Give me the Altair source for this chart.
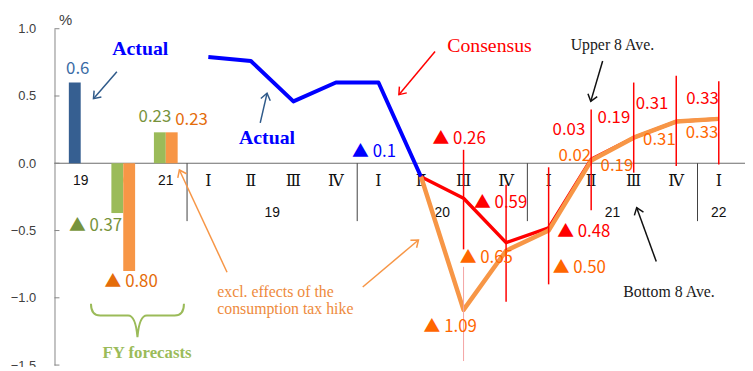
import math
import altair as alt
import pandas as pd

# ---------------- data ----------------
fy_years = ["19", "20", "21"]
fy_actual = [0.6]                  # FY19 actual
fy_forecast = [-0.37, 0.23]        # FY20, FY21 forecasts
fy_forecast_excl = [-0.80, 0.23]   # FY20, FY21 forecasts excl. tax-hike effects

quarters = ["Ⅰ", "Ⅱ", "Ⅲ", "Ⅳ", "Ⅰ", "Ⅱ", "Ⅲ", "Ⅳ", "Ⅰ", "Ⅱ", "Ⅲ", "Ⅳ", "Ⅰ"]
quarter_years = ["19", "19", "19", "19", "20", "20", "20", "20", "21", "21", "21", "21", "22"]

actual_q = [0.79, 0.76, 0.46, 0.60, 0.60, -0.10]                     # 19Ⅰ..20Ⅱ
consensus_q = [-0.10, -0.26, -0.59, -0.48, 0.03, 0.19, 0.31, 0.33]   # 20Ⅱ..22Ⅰ
excl_q = [-0.10, -1.09, -0.65, -0.50, 0.02, 0.19, 0.31, 0.33]        # 20Ⅱ..22Ⅰ
upper8 = [0.10, -0.16, -0.03, 0.40, 0.60, 0.65, 0.61]                # 20Ⅲ..22Ⅰ
bottom8 = [-0.64, -1.03, -0.90, -0.35, -0.07, -0.02, -0.01]          # 20Ⅲ..22Ⅰ
excl_upper8 = [-0.77]                                                 # 20Ⅲ
excl_bottom8 = [-1.47]

y_ticks = [-1.5, -1.0, -0.5, 0.0, 0.5, 1.0]

# ---------------- layout / style ----------------
W, H = 698, 340
N_SLOTS = len(fy_years) + len(quarters)
SLOT_PX = W / N_SLOTS
UNIT_PX = H / 2.5
SANS = "Liberation Sans, DejaVu Sans, sans-serif"
LBL = "Noto Sans CJK JP, Liberation Sans, sans-serif"
SERIF = "Liberation Serif, DejaVu Serif, serif"

C_BLUE_BAR = "#365F91"
C_GREEN = "#9BBB59"
C_GREEN_TXT = "#77933C"
C_ORANGE = "#F79646"
C_ORANGE_TXT = "#E46C0A"
C_RED = "#FF0000"
C_ORANGE_LBL = "#FF6600"
C_BLUE = "#0000FF"

fy_slot = list(range(len(fy_years)))
q_slot = [len(fy_years) + k for k in range(len(quarters))]
ACT_START, CONS_START, RANGE_START = 0, 5, 6


def fmt(v, d):
    s = f"{abs(v):.{d}f}"
    return ("▲ " + s) if v < 0 else s


YAXIS = alt.Axis(values=y_ticks, format=".1f", grid=False, ticks=False, tickSize=0,
                 labelPadding=19, labelFont=SANS, labelFontSize=13, labelColor="#404040",
                 domainColor="#868686", title="%", titleAngle=0, titleX=4, titleY=-9,
                 titleAlign="left", titleBaseline="middle", titleFont=SANS,
                 titleFontSize=15, titleFontWeight="normal", titleColor="#404040")


def X(f="x"):
    return alt.X(f"{f}:Q", scale=alt.Scale(domain=[-0.5, N_SLOTS - 0.5], nice=False, zero=False), axis=None)


def Y(f="y"):
    return alt.Y(f"{f}:Q", scale=alt.Scale(domain=[-1.5, 1.0], nice=False, zero=False), axis=YAXIS)


layers = []

# zero line
layers.append(alt.Chart(pd.DataFrame({"y": [0.0]})).mark_rule(color="#6a6a6a", strokeWidth=1).encode(y=Y()))

# group separators below the axis
sep_x = [q_slot[0] - 0.5] + [q_slot[k] - 0.5 for k in range(1, len(quarters)) if quarter_years[k] != quarter_years[k - 1]]
SEP_DEPTH = -0.43
layers.append(alt.Chart(pd.DataFrame({"x": sep_x, "y": [0.0] * len(sep_x), "y2": [SEP_DEPTH] * len(sep_x)}))
              .mark_rule(color="#404040", strokeWidth=1).encode(x=X(), y=Y(), y2=alt.Y2("y2:Q")))

# category labels
layers.append(alt.Chart(pd.DataFrame({"x": fy_slot, "y": [0.0] * 3, "t": fy_years}))
              .mark_text(dy=18, font=SANS, fontSize=14, color="#111111", baseline="middle")
              .encode(x=X(), y=Y(), text="t:N"))
layers.append(alt.Chart(pd.DataFrame({"x": q_slot, "y": [0.0] * len(q_slot), "t": quarters}))
              .mark_text(dy=18, font=SERIF, fontSize=16, color="#111111", baseline="middle")
              .encode(x=X(), y=Y(), text="t:N"))
years_u = list(dict.fromkeys(quarter_years))
year_centers = [sum(s for s, yy in zip(q_slot, quarter_years) if yy == y) /
                quarter_years.count(y) for y in years_u]
layers.append(alt.Chart(pd.DataFrame({"x": year_centers, "y": [0.0] * len(years_u), "t": years_u}))
              .mark_text(dy=50, font=SANS, fontSize=14, color="#111111", baseline="middle")
              .encode(x=X(), y=Y(), text="t:N"))

# FY bars
BAR_W, BAR_OFF = 12, 6
bar_sets = [
    (fy_slot[:1], fy_actual, C_BLUE_BAR, -BAR_OFF),
    (fy_slot[1:], fy_forecast, C_GREEN, -BAR_OFF),
    (fy_slot[1:], fy_forecast_excl, C_ORANGE, BAR_OFF),
]
for xs, vs, col, off in bar_sets:
    layers.append(alt.Chart(pd.DataFrame({"x": xs, "y": vs, "y0": [0.0] * len(vs)}))
                  .mark_bar(width=BAR_W, xOffset=off, color=col)
                  .encode(x=X(), y=Y(), y2=alt.Y2("y0:Q")))

# FY bar labels: (slot, value, text, color, dx, dy)
fy_labels = [
    (fy_slot[0], fy_actual[0], fmt(fy_actual[0], 1), "#3A6BA5", -3, -14),
    (fy_slot[2], fy_forecast[1], fmt(fy_forecast[1], 2), C_GREEN_TXT, -11, -15),
    (fy_slot[2], fy_forecast_excl[1], fmt(fy_forecast_excl[1], 2), C_ORANGE_TXT, 26, -12),
    (fy_slot[1], fy_forecast[0], fmt(fy_forecast[0], 2), C_GREEN_TXT, -28, 13),
    (fy_slot[1], fy_forecast_excl[0], fmt(fy_forecast_excl[0], 2), C_ORANGE_TXT, 8, 11),
]
for x, v, t, col, dx, dy in fy_labels:
    layers.append(alt.Chart(pd.DataFrame({"x": [x], "y": [v], "t": [t]}))
                  .mark_text(dx=dx, dy=dy, font=LBL, fontSize=17, color=col, baseline="middle")
                  .encode(x=X(), y=Y(), text="t:N"))

# quarterly lines
act_x = q_slot[ACT_START:ACT_START + len(actual_q)]
cons_x = q_slot[CONS_START:CONS_START + len(consensus_q)]
rng_x = q_slot[RANGE_START:RANGE_START + len(upper8)]
layers.append(alt.Chart(pd.DataFrame({"x": act_x, "y": actual_q}))
              .mark_line(color=C_BLUE, strokeWidth=4, strokeJoin="round").encode(x=X(), y=Y()))
layers.append(alt.Chart(pd.DataFrame({"x": cons_x, "y": consensus_q}))
              .mark_line(color=C_RED, strokeWidth=3.5, strokeJoin="round").encode(x=X(), y=Y()))
layers.append(alt.Chart(pd.DataFrame({"x": cons_x, "y": excl_q}))
              .mark_line(color=C_ORANGE, strokeWidth=4.5, strokeJoin="round").encode(x=X(), y=Y()))

# upper / bottom 8 average ranges
layers.append(alt.Chart(pd.DataFrame({"x": rng_x, "y": upper8, "y2": bottom8}))
              .mark_rule(color=C_RED, strokeWidth=1.5).encode(x=X(), y=Y(), y2=alt.Y2("y2:Q")))
layers.append(alt.Chart(pd.DataFrame({"x": rng_x[:1], "y": excl_upper8, "y2": excl_bottom8}))
              .mark_rule(color="#F4A3A3", strokeWidth=1).encode(x=X(), y=Y(), y2=alt.Y2("y2:Q")))

# point labels
CONS_OFF = [(-4.5, -60), (-5.5, -40), (35.5, 4), (-22.5, -29), (-20, -20), (-24.5, -18), (-16.5, -20)]
EXCL_OFF = [(-13.5, 17), (-20, 7), (31, 38), (-16.5, -5), (-17, 29), (-17, 19), (-17, 14)]
pt_labels = [(act_x[-1], actual_q[-1], fmt(actual_q[-1], 1), C_BLUE, -47.5, -25)]
for k, (dx, dy) in enumerate(CONS_OFF):
    pt_labels.append((cons_x[k + 1], consensus_q[k + 1], fmt(consensus_q[k + 1], 2), C_RED, dx, dy))
for k, (dx, dy) in enumerate(EXCL_OFF):
    pt_labels.append((cons_x[k + 1], excl_q[k + 1], fmt(excl_q[k + 1], 2), C_ORANGE_LBL, dx, dy))
for x, v, t, col, dx, dy in pt_labels:
    layers.append(alt.Chart(pd.DataFrame({"x": [x], "y": [v], "t": [t]}))
                  .mark_text(dx=dx, dy=dy, font=LBL, fontSize=17, color=col, baseline="middle")
                  .encode(x=X(), y=Y(), text="t:N"))

# annotation arrows (start x, start y, tip x, tip y) in data coordinates
ARROWS = [
    (0.85, 0.68, 0.30, 0.48, "#2F5A8A"),
    (4.22, 0.30, 4.38, 0.52, "#2F5A8A"),
    (8.33, 0.83, 7.48, 0.51, C_RED),
    (12.27, 0.76, 11.99, 0.46, "#111111"),
    (13.53, -0.73, 13.07, -0.33, "#111111"),
    (3.44, -0.81, 2.32, -0.05, C_ORANGE),
    (6.63, -0.92, 7.94, -0.57, C_ORANGE),
]
arr = pd.DataFrame(ARROWS, columns=["x", "y", "x2", "y2", "c"])
arr["angle"] = [math.degrees(math.atan2(-(b2 - b1) * UNIT_PX, (a2 - a1) * SLOT_PX)) % 360
                for a1, b1, a2, b2 in zip(arr.x, arr.y, arr.x2, arr.y2)]
layers.append(alt.Chart(arr).mark_rule(strokeWidth=1.5)
              .encode(x=X(), y=Y(), x2=alt.X2("x2:Q"), y2=alt.Y2("y2:Q"),
                      color=alt.Color("c:N", scale=None)))
layers.append(alt.Chart(arr).mark_point(shape="M -1 -0.75 L 0 0 L -1 0.75", size=170, filled=False,
                                        strokeWidth=1.5, opacity=1)
              .encode(x=X("x2"), y=Y("y2"), color=alt.Color("c:N", scale=None),
                      angle=alt.Angle("angle:Q", scale=None)))

# annotation texts
ANNOT = [
    ("Actual", 1.40, 0.85, 20, "bold", C_BLUE, "center"),
    ("Actual", 4.38, 0.19, 20, "bold", C_BLUE, "center"),
    ("Consensus", 9.61, 0.87, 20, "normal", C_RED, "center"),
    ("Upper 8 Ave.", 12.50, 0.88, 16, "normal", "#1a1a1a", "center"),
    ("Bottom 8 Ave.", 13.83, -0.96, 16, "normal", "#1a1a1a", "center"),
    ("excl. effects of the", 3.21, -0.956, 16, "normal", "#EE8A3C", "left"),
    ("consumption tax hike", 3.21, -1.081, 16, "normal", "#EE8A3C", "left"),
    ("FY forecasts", 1.56, -1.41, 17, "bold", C_GREEN, "center"),
]
for t, x, y, fs, fw, col, al in ANNOT:
    layers.append(alt.Chart(pd.DataFrame({"x": [x], "y": [y], "t": [t]}))
                  .mark_text(font=SERIF, fontSize=fs, fontWeight=fw, color=col, align=al, baseline="middle")
                  .encode(x=X(), y=Y(), text="t:N"))

# curly brace under the FY bars
BRACE = "M -1 -0.36 Q -1 -0.106 -0.8 -0.106 L -0.2 -0.106 Q -0.04 -0.106 0 0.36 Q 0.04 -0.106 0.2 -0.106 L 0.8 -0.106 Q 1 -0.106 1 -0.36"
layers.append(alt.Chart(pd.DataFrame({"x": [1.334], "y": [-1.169]}))
              .mark_point(shape=BRACE, size=94 ** 2, filled=False, stroke=C_GREEN, strokeWidth=2, opacity=1)
              .encode(x=X(), y=Y()))

# inward y-axis ticks
layers.append(alt.Chart(pd.DataFrame({"y": y_ticks}))
              .mark_rule(color="#868686", strokeWidth=1)
              .encode(y=Y(), x=alt.value(0), x2=alt.value(5)))

chart = (alt.layer(*layers)
         .properties(width=W, height=H, autosize=alt.AutoSizeParams(type="none"),
                     padding={"left": 47, "top": 19, "right": 0, "bottom": 0},
                     background="white")
         .configure_view(stroke=None))

chart.save("out.html", embed_options={"renderer": "svg", "actions": False})
